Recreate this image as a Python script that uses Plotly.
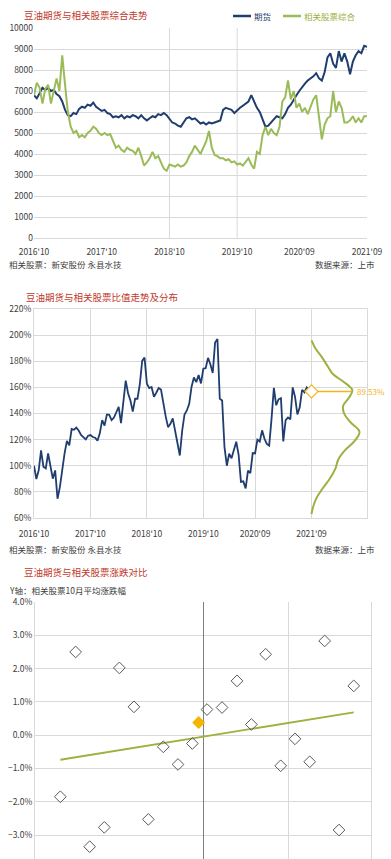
import numpy as np
import plotly.graph_objects as go

# ---------------- data ----------------
# Chart 1: half-month samples from 2016'10 to 2021'09
futures = [6800, 6650, 6900, 7150, 7050, 7150, 7000, 7050, 6850, 6750,
           6500, 6100, 5850, 5800, 5950, 5900, 6150, 6250, 6200, 6350,
           6300, 6450, 6250, 6150, 6050, 6100, 5950, 5900, 5750, 5800,
           5750, 5850, 5700, 5800, 5750, 5850, 5800, 5700, 5850, 5700,
           5600, 5700, 5800, 5750, 5900, 5850, 5950, 5850, 5700, 5500,
           5450, 5350, 5300, 5500, 5700, 5750, 5650, 5700, 5550, 5450,
           5500, 5400, 5500, 5450, 5500, 5550, 5600, 6100, 6200, 6150,
           6100, 5950, 6100, 6200, 6300, 6400, 6500, 6800, 6500, 6200,
           6000, 5600, 5300, 5350, 5500, 5600, 5800, 5750, 5700, 5900,
           6200, 6350, 6600, 6800, 7000, 7200, 7350, 7500, 7600, 7700,
           7850, 7600, 7500, 7900, 8600, 8800, 8300, 8100, 8900, 8400,
           8800, 8400, 7800, 8400, 8700, 8900, 8800, 9150, 9100]
stocks = [6800, 7400, 7150, 6400, 7100, 7300, 6400, 7000, 7600, 7000,
          8700, 7300, 6000, 5300, 5000, 5100, 4800, 4900, 4800, 5000,
          5100, 5300, 5200, 5000, 4900, 5000, 4900, 4950, 4600, 4300,
          4400, 4200, 4100, 4300, 4200, 4150, 4000, 4300, 3900, 3450,
          3600, 3800, 4100, 3800, 3900, 3600, 3300, 3200, 3500, 3450,
          3400, 3500, 3400, 3450, 3600, 3900, 4100, 4400, 4200, 4000,
          4300, 4600, 5100, 4300, 3950, 3900, 3800, 3800, 3700, 3750,
          3600, 3650, 3500, 3550, 3450, 3600, 3800, 3500, 3300, 4100,
          4000, 4900, 5300, 4900, 5200, 5000, 4900, 5300, 6500, 6700,
          7500, 6600, 7000, 6200, 6400, 6000, 6200, 5900, 6300, 6600,
          6800, 5600, 4700, 5400, 5700, 5800, 7000, 6000, 6500, 6200,
          5500, 5500, 5600, 5800, 5500, 5700, 5500, 5800, 5800]
tick_vals = [0, 12, 24, 36, 47, 59]
tick_text = ["2016'10", "2017'10", "2018'10", "2019'10", "2020'09", "2021'09"]
grid1_months = [24, 36]
series_names = ["期货", "相关股票综合"]

# Chart 2: distribution of ratio (relative density by ratio level, %)
dist_levels = [196, 190, 183, 176, 170, 164, 158, 152, 146, 140, 133,
               126, 119, 112, 105, 98, 90, 82, 75, 68, 63]
dist_density = [0.00, 0.08, 0.22, 0.34, 0.45, 0.68, 0.85, 0.78, 0.66, 0.68, 0.82,
                1.00, 0.90, 0.70, 0.56, 0.50, 0.38, 0.22, 0.10, 0.03, 0.00]
percentile_label = "89.53%"

# Chart 3: futures change (x) vs related stocks average change (y, %)
scatter_x = [-1.678, -1.498, -1.333, -1.161, -0.984, -0.812, -0.643, -0.467,
             -0.294, -0.125, 0.047, 0.224, 0.400, 0.569, 0.737, 0.914,
             1.082, 1.255, 1.431, 1.600, 1.773]
scatter_y = [-1.85, 2.50, -3.35, -2.77, 2.02, 0.85, -2.53, -0.35,
             -0.88, -0.25, 0.77, 0.83, 1.63, 0.32, 2.43, -0.92,
             -0.11, -0.80, 2.83, -2.85, 1.48]
current_x = [-0.051]
current_y = [0.38]

# ---------------- styling ----------------
W, H = 391, 859
FONT = "Noto Sans CJK SC"
NAVY = "#1f3d6e"
GREEN = "#9bbb59"
OLIVE = "#9ab23e"
GOLD = "#f2b51c"
RED = "#c0392b"
GRID = "#d9d9d9"
TXT = "#404040"


def fx(p):
    return p / W


def fy(p):
    return 1 - p / H


month_idx = [i / 2 for i in range(len(futures))]
ratio = [f / s * 100 for f, s in zip(futures, stocks)]
last_m = month_idx[-1]
cur_ratio = ratio[-1]

fig = go.Figure()

# Chart 1
fig.add_trace(go.Scatter(x=month_idx, y=futures, mode="lines", name=series_names[0],
                         showlegend=False,
                         line=dict(color=NAVY, width=2), xaxis="x", yaxis="y"))
fig.add_trace(go.Scatter(x=month_idx, y=stocks, mode="lines", name=series_names[1],
                         showlegend=False,
                         line=dict(color=GREEN, width=2), xaxis="x", yaxis="y"))

# Chart 2
fig.add_trace(go.Scatter(x=month_idx, y=ratio, mode="lines", showlegend=False,
                         line=dict(color=NAVY, width=1.8), xaxis="x2", yaxis="y2"))
dens_scale = 10.2  # months of width for peak density
dist_x = [last_m + d * dens_scale for d in dist_density]
fig.add_trace(go.Scatter(x=dist_x, y=dist_levels, mode="lines", showlegend=False,
                         line=dict(color=OLIVE, width=2, shape="spline"),
                         xaxis="x2", yaxis="y2"))
lv_sorted = np.argsort(dist_levels)
cur_dens = float(np.interp(cur_ratio, np.array(dist_levels)[lv_sorted],
                           np.array(dist_density)[lv_sorted]))
end_x = last_m + cur_dens * dens_scale
fig.add_trace(go.Scatter(x=[last_m, end_x], y=[cur_ratio, cur_ratio], mode="lines",
                         showlegend=False, line=dict(color=GOLD, width=1.5),
                         xaxis="x2", yaxis="y2"))
fig.add_trace(go.Scatter(x=[last_m], y=[cur_ratio], mode="markers", showlegend=False,
                         marker=dict(symbol="diamond", size=10, color="white",
                                     line=dict(color=GOLD, width=1.2)),
                         xaxis="x2", yaxis="y2"))
fig.add_annotation(x=end_x, y=cur_ratio, xref="x2", yref="y2", text=percentile_label,
                   showarrow=False, xanchor="left", xshift=3,
                   font=dict(family=FONT, size=8, color=GOLD))

# Chart 3
all_x = np.array(scatter_x + current_x)
all_y = np.array(scatter_y + current_y)
slope, intercept = np.polyfit(all_x, all_y, 1)
tx = np.array([all_x.min(), all_x.max()])
fig.add_trace(go.Scatter(x=tx, y=slope * tx + intercept, mode="lines", showlegend=False,
                         line=dict(color=OLIVE, width=1.8), xaxis="x3", yaxis="y3"))
fig.add_trace(go.Scatter(x=scatter_x, y=scatter_y, mode="markers", showlegend=False,
                         marker=dict(symbol="diamond-open", size=9, color="#595959",
                                     line=dict(width=1)),
                         xaxis="x3", yaxis="y3"))
fig.add_trace(go.Scatter(x=current_x, y=current_y, mode="markers", showlegend=False,
                         marker=dict(symbol="diamond", size=10, color="#f5b400"),
                         xaxis="x3", yaxis="y3"))

# vertical gridlines for chart 1
for m in grid1_months:
    fig.add_shape(type="line", xref="x", yref="y domain", x0=m, x1=m, y0=0, y1=1,
                  line=dict(color=GRID, width=1), layer="below")

tickfont = dict(family=FONT, size=8.5, color=TXT)

fig.update_layout(
    width=W, height=H,
    margin=dict(l=0, r=0, t=0, b=0, autoexpand=False),
    paper_bgcolor="white", plot_bgcolor="white",
    font=dict(family=FONT, color=TXT),
    showlegend=False,
    xaxis=dict(domain=[fx(34), fx(367)], anchor="y", range=[0, last_m],
               tickvals=tick_vals, ticktext=tick_text, showgrid=False, zeroline=False,
               showline=True, linecolor=GRID, ticks="", tickfont=tickfont,
               ticklabelstandoff=6, automargin=False),
    yaxis=dict(domain=[fy(238), fy(28)], anchor="x", range=[0, 10000], dtick=1000,
               tickformat="d", gridcolor=GRID, zeroline=False, showline=False, ticks="",
               tickfont=tickfont, automargin=False),
    xaxis2=dict(domain=[fx(34), fx(367)], anchor="y2", range=[0, last_m + 11.8],
                tickvals=tick_vals, ticktext=tick_text, showgrid=True, gridcolor=GRID,
                zeroline=False, showline=True, mirror=True, linecolor=GRID, ticks="",
                tickfont=tickfont, ticklabelstandoff=8, automargin=False),
    yaxis2=dict(domain=[fy(518), fy(309)], anchor="x2", range=[60, 220], dtick=20,
                ticksuffix="%", gridcolor=GRID, zeroline=False, showline=True,
                mirror=True, linecolor=GRID, ticks="", tickfont=tickfont,
                automargin=False),
    xaxis3=dict(domain=[fx(35), fx(371)], anchor="y3", range=[-1.976, 1.976],
                tickvals=[1], showticklabels=False, showgrid=True, gridcolor=GRID,
                zeroline=True, zerolinecolor="#7f7f7f", zerolinewidth=1, ticks="",
                automargin=False),
    yaxis3=dict(domain=[0, fy(602)], anchor="x3", range=[-3.72, 4.0], dtick=1,
                tickformat=".1f", ticksuffix="%", gridcolor=GRID, zeroline=False,
                showline=True, mirror=True, linecolor=GRID, ticks="", tickfont=tickfont,
                automargin=False),
)

# manual legend for chart 1
legend_items = [(series_names[0], NAVY, NAVY, 233), (series_names[1], GREEN, OLIVE, 283)]
for name, lc, tc, x0 in legend_items:
    fig.add_shape(type="line", xref="paper", yref="paper", x0=fx(x0), x1=fx(x0 + 18),
                  y0=fy(16), y1=fy(16), line=dict(color=lc, width=2.5))
    fig.add_annotation(text=name, x=fx(x0 + 19), y=fy(16), xref="paper", yref="paper",
                       xanchor="left", yanchor="middle", showarrow=False,
                       font=dict(family=FONT, size=8.5, color=tc))


# text annotations
def note(text, x, y, anchor="left", color=TXT, size=8.5):
    fig.add_annotation(text=text, x=fx(x), y=fy(y), xref="paper", yref="paper",
                       xanchor=anchor, yanchor="middle", showarrow=False,
                       font=dict(family=FONT, size=size, color=color))


note("豆油期货与相关股票综合走势", 22, 15, color=RED, size=9.5)
note("相关股票：新安股份 永县水技", 7, 264)
note("数据来源：上市", 377, 264, anchor="right")
note("豆油期货与相关股票比值走势及分布", 24, 297, color=RED, size=9.5)
note("相关股票：新安股份 永县水技", 7, 549)
note("数据来源：上市", 377, 549, anchor="right")
note("豆油期货与相关股票涨跌对比", 22, 572, color=RED, size=9.5)
note("Y轴：相关股票10月平均涨跌幅", 7, 590)

fig.write_html(
    "out.html",
    config={"displayModeBar": False},
    post_script="document.body.style.margin='0';document.body.style.overflow='hidden';",
)
